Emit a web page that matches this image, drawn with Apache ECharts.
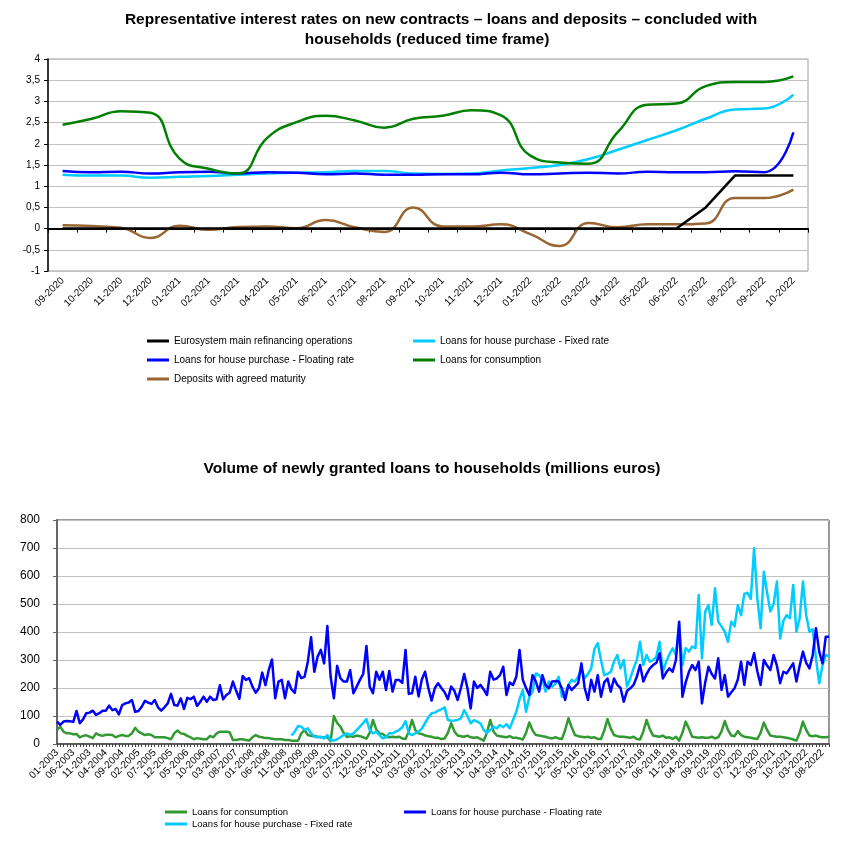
<!DOCTYPE html>
<html><head><meta charset="utf-8">
<script src="https://cdn.jsdelivr.net/npm/echarts@6/dist/echarts.min.js"></script>
<style>html,body{margin:0;padding:0;background:#fff}#c{width:848px;height:844px}</style>
</head><body><div id="c"></div>
<script>
// ---------- Top chart: interest rates (%) ----------
const rateMonths = ['09-2020','10-2020','11-2020','12-2020','01-2021','02-2021','03-2021','04-2021','05-2021','06-2021','07-2021','08-2021','09-2021','10-2021','11-2021','12-2021','01-2022','02-2022','03-2022','04-2022','05-2022','06-2022','07-2022','08-2022','09-2022','10-2022'];
const rateTicks = [-1, -0.5, 0, 0.5, 1, 1.5, 2, 2.5, 3, 3.5, 4];
const mroRate = [0,0,0,0,0,0,0,0,0,0,0,0,0,0,0,0,0,0,0,0,0,0,0.5,1.25,1.25,1.25];
const fixedRate = [1.27,1.25,1.25,1.20,1.22,1.24,1.27,1.30,1.32,1.33,1.36,1.36,1.30,1.29,1.30,1.37,1.43,1.50,1.64,1.86,2.09,2.32,2.59,2.81,2.83,3.16];
const floatingRate = [1.36,1.33,1.34,1.30,1.33,1.34,1.30,1.33,1.32,1.28,1.30,1.27,1.27,1.28,1.28,1.32,1.28,1.30,1.32,1.30,1.34,1.33,1.33,1.35,1.33,2.27];
const consumptionRate = [2.45,2.59,2.77,2.73,1.65,1.41,1.30,2.14,2.51,2.66,2.55,2.38,2.59,2.66,2.79,2.67,1.72,1.56,1.53,2.28,2.92,2.95,3.36,3.46,3.46,3.59];
const depositRate = [0.08,0.06,0.02,-0.22,0.07,-0.03,0.04,0.05,0.01,0.20,0.03,-0.08,0.50,0.05,0.05,0.10,-0.13,-0.41,0.13,0.03,0.10,0.10,0.12,0.72,0.72,0.92];

// ---------- Bottom chart: volumes (millions euros), monthly 01-2003 .. 10-2022 ----------
const volumeStart = { year: 2003, month: 1 };
const volumeCount = 238;
const volumeTicks = [0, 100, 200, 300, 400, 500, 600, 700, 800];
const consumptionVolume = [50,62,44,38,38,35,36,24,29,31,
26,21,38,32,29,33,33,32,24,29,
32,29,29,38,58,44,38,32,35,32,
24,24,24,24,21,17,38,48,38,36,
29,24,17,21,19,17,17,29,24,38,
44,44,44,42,14,14,17,17,14,12,
24,32,26,24,21,21,19,17,17,17,
14,14,12,12,12,38,50,32,29,29,
26,24,24,24,10,100,
75,62,40,25,28,26,30,28,24,19,
40,86,52,38,36,26,24,26,24,26,
20,18,45,86,50,38,36,30,28,26,
22,22,18,20,40,74,45,30,28,26,
30,24,22,24,18,12,40,86,45,30,
28,26,24,28,22,22,20,16,40,77,
48,32,30,28,26,22,20,24,20,18,
50,92,60,32,28,26,24,26,22,24,
18,18,48,89,55,32,28,26,26,24,
22,26,18,16,45,86,52,30,28,26,
30,22,24,18,26,12,40,80,55,26,
24,22,24,22,22,26,20,24,45,82,
50,30,28,46,32,26,24,22,20,18,
40,77,50,30,28,26,26,24,22,20,
16,12,40,80,50,30,28,30,26,24,
24,26];
const floatingVolume = [80,68,80,82,81,79,118,74,88,110,
112,119,104,110,119,119,137,121,125,106,
139,145,148,157,115,118,133,154,148,143,
157,131,119,131,145,179,139,137,163,125,
165,160,169,136,151,169,151,169,157,160,
210,160,175,183,223,190,161,243,229,235,
205,183,199,255,210,264,302,163,223,229,
163,223,195,183,258,235,240,294,381,258,
312,336,288,421,240,163,279,235,223,223,
264,181,205,229,250,350,205,181,258,229,
258,193,261,187,229,229,218,336,179,181,
240,170,230,258,200,155,200,217,200,185,
160,205,190,157,200,250,200,127,223,200,
211,195,175,258,230,234,246,276,175,220,
211,240,336,229,200,175,246,223,187,246,
210,199,223,225,223,199,157,211,193,205,
217,288,200,157,229,187,246,169,220,234,
187,234,211,200,151,190,199,211,240,282,
223,250,270,282,290,324,234,255,270,258,
300,437,169,220,258,282,264,294,145,220,
276,250,234,306,193,246,169,185,199,230,
294,211,294,282,324,260,211,300,280,264,
318,280,217,258,252,270,288,223,280,330,
290,270,318,413,330,288,383,383];
const fixedVolumeFirst = 72; // series begins in 01-2009
const fixedVolume = [30,45,64,62,50,56,38,26,
24,26,20,32,14,12,17,24,32,38,
32,38,50,62,75,89,50,38,44,32,
20,24,38,38,44,50,60,82,38,32,
38,44,55,75,95,110,112,119,124,131,
86,83,84,86,92,121,100,74,85,80,
74,50,40,50,62,56,68,60,71,56,
86,115,160,193,115,169,187,252,246,230,
187,223,205,215,240,169,185,210,229,223,
240,270,235,250,270,340,360,300,246,250,
258,294,318,270,300,205,235,270,300,365,
282,318,294,300,312,365,258,294,320,342,
318,425,282,342,330,348,342,532,306,473,
496,425,556,437,420,401,365,437,420,496,
460,536,540,518,699,520,413,615,540,473,
500,580,377,440,460,449,568,401,450,580,
460,401,410,306,217,280,318,312];

const volumeMonths = [];
for (let i = 0; i < volumeCount; i++) {
  const m = (volumeStart.month - 1 + i) % 12 + 1;
  const y = volumeStart.year + Math.floor((volumeStart.month - 1 + i) / 12);
  volumeMonths.push((m < 10 ? '0' : '') + m + '-' + y);
}
const fixedVolumeFull = new Array(fixedVolumeFirst).fill(null).concat(fixedVolume);

const N = {
  mro: 'Eurosystem main refinancing operations',
  fix: 'Loans for house purchase - Fixed rate',
  flo: 'Loans for house purchase - Floating rate',
  con: 'Loans for consumption',
  dep: 'Deposits with agreed maturity'
};
const C = { mro:'#000000', fix:'#00ccff', flo:'#0000ff', con:'#008000', dep:'#996633', con2:'#339933' };
const FONT = '"Liberation Sans", Arial, sans-serif';

const chart = echarts.init(document.getElementById('c'), null, { renderer: 'canvas' });

function topLine(name, data, color, smooth) {
  return { name, type:'line', xAxisIndex:0, yAxisIndex:0, data, smooth: smooth, showSymbol:false,
    lineStyle:{ color, width:2.5 }, itemStyle:{ color }, emphasis:{disabled:true}, animation:false };
}
function botLine(name, data, color) {
  return { name, type:'line', xAxisIndex:1, yAxisIndex:1, data, showSymbol:false, connectNulls:false,
    lineStyle:{ color, width:2.5, join:'round' }, itemStyle:{ color }, emphasis:{disabled:true}, animation:false };
}
const legendText = { fontFamily: FONT, fontSize: 10, color:'#000' };
const titleText = { fontFamily:FONT, fontSize:15.5, fontWeight:'bold', color:'#000' };

chart.setOption({
  animation: false,
  textStyle: { fontFamily: FONT },
  title: [
    { text:'Representative interest rates on new contracts \u2013 loans and deposits \u2013 concluded with', left:441, top:12, textAlign:'center', padding:0, textStyle:titleText },
    { text:'households (reduced time frame)', left:427, top:32, textAlign:'center', padding:0, textStyle:titleText },
    { text:'Volume of newly granted loans to households (millions euros)', left:432, top:461, textAlign:'center', padding:0, textStyle:titleText }
  ],
  legend: [
    { left:147, top:336, padding:0, orient:'vertical', itemWidth:22, itemHeight:3, icon:'rect', itemGap:9,
      textStyle:legendText, selectedMode:false, data:[
        {name:N.mro, itemStyle:{color:C.mro}}, {name:N.flo, itemStyle:{color:C.flo}}, {name:N.dep, itemStyle:{color:C.dep}} ] },
    { left:413, top:336, padding:0, orient:'vertical', itemWidth:22, itemHeight:3, icon:'rect', itemGap:9,
      textStyle:legendText, selectedMode:false, data:[
        {name:N.fix, itemStyle:{color:C.fix}}, {name:N.con, itemStyle:{color:C.con}} ] },
    { left:165, top:807, padding:0, orient:'vertical', itemWidth:22, itemHeight:3, icon:'rect', itemGap:2,
      textStyle:{ fontFamily: FONT, fontSize: 9.5, color:'#000' }, selectedMode:false, data:[
        {name:N.con, itemStyle:{color:C.con2}}, {name:N.fix, itemStyle:{color:C.fix}} ] },
    { left:404, top:807, padding:0, orient:'vertical', itemWidth:22, itemHeight:3, icon:'rect', itemGap:2,
      textStyle:{ fontFamily: FONT, fontSize: 9.5, color:'#000' }, selectedMode:false, data:[
        {name:N.flo, itemStyle:{color:C.flo}} ] }
  ],
  grid: [
    { left:48, top:59, width:760, height:212, show:true, borderColor:'#a0a0a0', borderWidth:1, backgroundColor:'transparent' },
    { left:57, top:520, width:772, height:224, show:true, borderColor:'#333333', borderWidth:1, backgroundColor:'transparent' }
  ],
  xAxis: [
    { type:'category', gridIndex:0, data: rateMonths, boundaryGap:true,
      axisLine:{ onZero:true, lineStyle:{ color:'#000', width:2 } },
      axisTick:{ show:true, length:4, lineStyle:{ color:'#000' } },
      axisLabel:{ rotate:45, margin:8, fontSize:10, color:'#000', fontFamily:FONT, interval:0 },
      splitLine:{ show:false } },
    { type:'category', gridIndex:1, data: volumeMonths, boundaryGap:false,
      axisLine:{ lineStyle:{ color:'#444', width:1.5 } },
      axisTick:{ show:true, interval:0, length:3, lineStyle:{ color:'#444' } },
      axisLabel:{ rotate:45, margin:7, fontSize:10, color:'#000', fontFamily:FONT, interval:4 },
      splitLine:{ show:false } }
  ],
  yAxis: [
    { type:'value', gridIndex:0, min:rateTicks[0], max:rateTicks[rateTicks.length-1], interval:0.5,
      axisLine:{ show:true, lineStyle:{ color:'#000', width:1.5 } },
      axisTick:{ show:true, length:4, lineStyle:{ color:'#000' } },
      axisLabel:{ fontSize:10, color:'#000', margin:8, fontFamily:FONT, formatter: v => String(v).replace('.', ',') },
      splitLine:{ lineStyle:{ color:'#c0c0c0', width:1 } } },
    { type:'value', gridIndex:1, min:volumeTicks[0], max:volumeTicks[volumeTicks.length-1], interval:100,
      axisLine:{ show:true, lineStyle:{ color:'#666', width:2 } },
      axisTick:{ show:true, length:4, lineStyle:{ color:'#666' } },
      axisLabel:{ fontSize:12, color:'#000', margin:17, fontFamily:FONT },
      splitLine:{ lineStyle:{ color:'#c0c0c0', width:1 } } }
  ],
  series: [
    topLine(N.dep, depositRate, C.dep, 0.5),
    topLine(N.fix, fixedRate, C.fix, 0.5),
    topLine(N.flo, floatingRate, C.flo, 0.5),
    topLine(N.con, consumptionRate, C.con, 0.5),
    topLine(N.mro, mroRate, C.mro, false),
    botLine(N.con, consumptionVolume, C.con2),
    botLine(N.fix, fixedVolumeFull, C.fix),
    botLine(N.flo, floatingVolume, C.flo)
  ]
});
</script>
</body></html>
